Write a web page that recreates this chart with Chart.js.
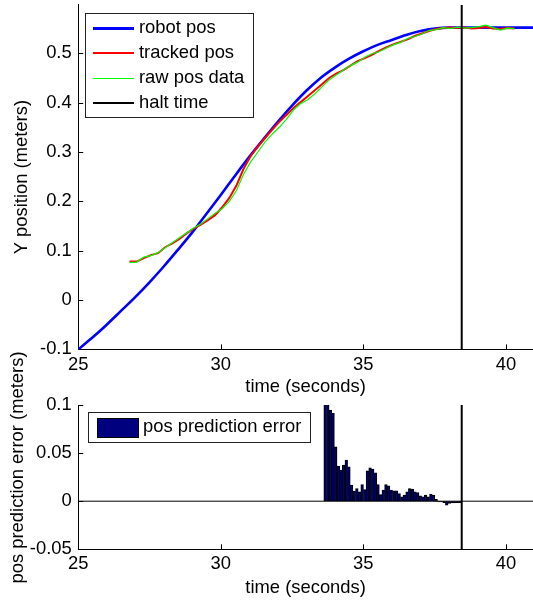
<!DOCTYPE html>
<html>
<head>
<meta charset="utf-8">
<script src="https://cdn.jsdelivr.net/npm/chart.js@4.4.1/dist/chart.umd.min.js"></script>
<style>
  html, body { margin: 0; padding: 0; background: #fff; }
  #wrap { position: relative; width: 533px; height: 600px; }
  #wrap canvas { position: absolute; left: 0; top: 0; }
</style>
</head>
<body>
<div id="wrap">
  <canvas id="posChart" width="533" height="600"></canvas>
  <canvas id="errChart" width="533" height="600"></canvas>
</div>
<script>
// axis ranges and tick labels
const timeMin = 25, timeMax = 40.95;
const timeTicks = [25, 30, 35, 40];
const posMin = -0.1, posMax = 0.598;
const posTicks = [-0.1, 0, 0.1, 0.2, 0.3, 0.4, 0.5];
const errMin = -0.05, errMax = 0.1;
const errTicks = [-0.05, 0, 0.05, 0.1];
const haltTime = 38.45;

// robot position (blue)
const robotTime = [25, 25.5, 26, 26.5, 27, 27.5, 28, 28.5, 29, 29.5, 30, 30.5, 31, 31.5, 32, 32.5,
  33, 33.5, 34, 34.5, 35, 35.5, 36, 36.5, 37, 37.5, 38, 38.5, 39, 39.5, 40, 40.5, 41];
const robotPos = [-0.100, -0.076, -0.050, -0.022, 0.006, 0.036, 0.068, 0.102, 0.137, 0.175, 0.213,
  0.252, 0.290, 0.326, 0.361, 0.394, 0.424, 0.450, 0.471, 0.489, 0.504, 0.517, 0.527, 0.537,
  0.545, 0.550, 0.552, 0.552, 0.552, 0.552, 0.552, 0.552, 0.552];

// tracked (red) and raw (green) position samples
const trackTime = [26.8, 27.05, 27.3, 27.55, 27.8, 28.05, 28.3, 28.55, 28.8, 29.05, 29.3, 29.55,
  29.8, 30.05, 30.3, 30.55, 30.8, 31.05, 31.3, 31.55, 31.8, 32.05, 32.3, 32.55, 32.8, 33.05, 33.3,
  33.55, 33.8, 34.05, 34.3, 34.55, 34.8, 35.05, 35.3, 35.55, 35.8, 36.05, 36.3, 36.55, 36.8, 37.05,
  37.3, 37.55, 37.8, 38.05, 38.3, 38.55, 38.8, 39.05, 39.3, 39.55, 39.8, 40.05, 40.3];
const trackedPos = [0.078, 0.078, 0.085, 0.091, 0.095, 0.107, 0.115, 0.124, 0.135, 0.145, 0.153,
  0.162, 0.172, 0.188, 0.207, 0.232, 0.266, 0.292, 0.311, 0.328, 0.345, 0.361, 0.375, 0.389, 0.401,
  0.413, 0.425, 0.437, 0.450, 0.459, 0.466, 0.475, 0.484, 0.490, 0.497, 0.505, 0.512, 0.518, 0.523,
  0.528, 0.535, 0.540, 0.545, 0.549, 0.551, 0.552, 0.551, 0.552, 0.550, 0.551, 0.553, 0.550, 0.549,
  0.551, 0.550];
const rawPos = [0.076, 0.077, 0.087, 0.090, 0.096, 0.106, 0.116, 0.126, 0.136, 0.146, 0.154, 0.165,
  0.176, 0.185, 0.200, 0.222, 0.255, 0.280, 0.300, 0.320, 0.336, 0.350, 0.366, 0.385, 0.398, 0.406,
  0.418, 0.432, 0.446, 0.456, 0.466, 0.475, 0.482, 0.492, 0.499, 0.503, 0.510, 0.517, 0.522, 0.530,
  0.534, 0.539, 0.546, 0.548, 0.552, 0.550, 0.553, 0.551, 0.552, 0.554, 0.557, 0.552, 0.547, 0.551,
  0.550];

// position prediction error bars, one per sample
const errStart = 33.66, errStep = 0.0927;
const errValues = [0.12, 0.11, 0.0948, 0.0913, 0.0566, 0.0365, 0.0323, 0.0375, 0.0427, 0.0358,
  0.0167, 0.0104, 0.0132, 0.0097, 0.0174, 0.0122, 0.0316, 0.0347, 0.0333, 0.0295, 0.0174, 0.0069,
  0.0115, 0.0174, 0.016, 0.0115, 0.0108, 0.0108, 0.008, 0.0045, 0.0063, 0.0097, 0.0132, 0.0125,
  0.0097, 0.009, 0.0056, 0.0045, 0.0063, 0.0045, 0.0073, 0.0063, 0.002, -0.0007, -0.0007, -0.0014,
  -0.004, -0.0024, -0.0017, -0.0017, -0.0014, -0.0014];

const FONT = '"Liberation Sans", Arial, sans-serif';
const FS = 18.4;
const AXIS = '#000';

function pairs(xs, ys) {
  return xs.map((x, i) => ({ x: x, y: ys[i] }));
}

// MATLAB style tick marks, pointing into the plot
const innerTicks = {
  id: 'innerTicks',
  beforeDatasetsDraw(chart) {
    const { ctx, chartArea: a, scales } = chart;
    ctx.save();
    ctx.strokeStyle = AXIS;
    ctx.lineWidth = 1;
    ctx.beginPath();
    scales.x.ticks.forEach((t) => {
      const px = Math.round(scales.x.getPixelForValue(t.value)) + 0.5;
      ctx.moveTo(px, a.bottom);
      ctx.lineTo(px, a.bottom - 5);
    });
    scales.y.ticks.forEach((t) => {
      const py = Math.round(scales.y.getPixelForValue(t.value)) + 0.5;
      ctx.moveTo(a.left, py);
      ctx.lineTo(a.left + 5, py);
    });
    ctx.stroke();
    ctx.restore();
  }
};

// legend box drawn inside the plot, top left
const boxLegend = {
  id: 'boxLegend',
  afterDatasetsDraw(chart, args, o) {
    const { ctx, chartArea: a } = chart;
    const items = chart.data.datasets.filter((d) => !d.noLegend);
    ctx.save();
    ctx.font = FS + 'px ' + FONT;
    const textW = Math.max.apply(null, items.map((d) => ctx.measureText(d.label).width));
    const x0 = Math.round(a.left + o.left), y0 = Math.round(a.top + o.top);
    const w = Math.round(o.padLeft + o.sample + o.gap + textW + o.padRight);
    const h = Math.round(o.padTop * 2 + items.length * o.rowHeight);
    ctx.fillStyle = '#fff';
    ctx.fillRect(x0, y0, w, h);
    ctx.strokeStyle = '#222';
    ctx.lineWidth = 1;
    ctx.strokeRect(x0 + 0.5, y0 + 0.5, w, h);
    items.forEach((d, i) => {
      const cy = Math.round(y0 + o.padTop + o.rowHeight * (i + 0.5));
      const sx = x0 + o.padLeft;
      if (d.type === 'bar') {
        ctx.fillStyle = d.backgroundColor;
        ctx.fillRect(sx, Math.round(cy - o.patch / 2), o.sample, o.patch);
        ctx.strokeStyle = d.borderColor;
        ctx.lineWidth = 1;
        ctx.strokeRect(sx + 0.5, Math.round(cy - o.patch / 2) + 0.5, o.sample, o.patch);
      } else {
        // odd widths sit on half pixels so thin lines stay crisp
        const lw = Math.max(1, Math.round(d.borderWidth));
        const ly = cy + (lw % 2 ? 0.5 : 0);
        ctx.strokeStyle = d.borderColor;
        ctx.lineWidth = lw;
        ctx.beginPath();
        ctx.moveTo(sx, ly);
        ctx.lineTo(sx + o.sample, ly);
        ctx.stroke();
      }
      ctx.fillStyle = '#000';
      ctx.textBaseline = 'middle';
      ctx.textAlign = 'left';
      ctx.fillText(d.label, sx + o.sample + o.gap, cy);
    });
    ctx.restore();
  }
};

// rotated y title that may run past its own plot (bottom panel)
const sideTitle = {
  id: 'sideTitle',
  afterDraw(chart, args, o) {
    if (!o.text) return;
    const ctx = chart.ctx;
    ctx.save();
    ctx.translate(o.x, o.y);
    ctx.rotate(-Math.PI / 2);
    ctx.font = FS + 'px ' + FONT;
    ctx.fillStyle = '#000';
    ctx.textAlign = 'center';
    ctx.textBaseline = 'middle';
    ctx.fillText(o.text, 0, 0);
    ctx.restore();
  }
};

function timeAxis(height, titlePad) {
  return {
    type: 'linear',
    min: timeMin,
    max: timeMax,
    offset: false,
    afterBuildTicks: (s) => { s.ticks = timeTicks.map((v) => ({ value: v })); },
    afterFit: (s) => { s.height = height; s.paddingLeft = 0; s.paddingRight = 0; },
    grid: { display: false, drawTicks: false, offset: false },
    border: { display: true, color: AXIS, width: 1 },
    ticks: {
      color: '#000', padding: 4, maxRotation: 0, autoSkip: false,
      font: { family: FONT, size: FS },
      callback: (v) => String(v)
    },
    title: {
      display: true, text: 'time (seconds)', color: '#000',
      font: { family: FONT, size: FS },
      padding: { top: 0, bottom: titlePad }
    }
  };
}

function valueAxis(min, max, tickList, title, titlePad) {
  return {
    type: 'linear',
    min: min,
    max: max,
    afterBuildTicks: (s) => { s.ticks = tickList.map((v) => ({ value: v })); },
    afterFit: (s) => { s.width = 78.2; s.paddingTop = 0; s.paddingBottom = 0; },
    grid: { display: false, drawTicks: false },
    border: { display: true, color: AXIS, width: 1 },
    ticks: {
      color: '#000', padding: 6.5, autoSkip: false,
      font: { family: FONT, size: FS },
      callback: (v) => String(v)
    },
    title: {
      display: !!title, text: title, color: '#000',
      font: { family: FONT, size: FS },
      padding: { top: titlePad, bottom: 0 }
    }
  };
}

const common = {
  responsive: false,
  animation: false,
  devicePixelRatio: 1,
  events: [],
  elements: { point: { radius: 0 } }
};

new Chart(document.getElementById('posChart'), {
  type: 'line',
  data: {
    datasets: [
      { label: 'robot pos', data: pairs(robotTime, robotPos), borderColor: '#0000ff',
        borderWidth: 2.6, cubicInterpolationMode: 'monotone', order: 4 },
      { label: 'tracked pos', data: pairs(trackTime, trackedPos), borderColor: '#ff0000',
        borderWidth: 2, order: 3 },
      { label: 'raw pos data', data: pairs(trackTime, rawPos), borderColor: '#00ff00',
        borderWidth: 1.2, order: 2 },
      { label: 'halt time', data: [{ x: haltTime, y: posMin }, { x: haltTime, y: posMax }],
        borderColor: '#000', borderWidth: 2, order: 1 }
    ]
  },
  options: Object.assign({}, common, {
    layout: { padding: { top: 4.9, right: 0, bottom: 200, left: 0 } },
    scales: {
      x: timeAxis(50.6, 2),
      y: valueAxis(posMin, posMax, posTicks, 'Y position (meters)', 11)
    },
    plugins: {
      legend: { display: false },
      tooltip: { enabled: false },
      boxLegend: { left: 6.8, top: 8, padLeft: 8, sample: 41, gap: 5, padRight: 9,
        padTop: 2, rowHeight: 25, patch: 19 }
    }
  }),
  plugins: [innerTicks, boxLegend]
});

new Chart(document.getElementById('errChart'), {
  type: 'line',
  data: {
    datasets: [
      { type: 'bar', label: 'pos prediction error',
        data: errValues.map((v, i) => ({ x: errStart + i * errStep, y: v })),
        backgroundColor: '#00007f', borderColor: '#000', borderWidth: 1,
        barPercentage: 1, categoryPercentage: 1, order: 3 },
      { label: 'zero', noLegend: true, data: [{ x: timeMin, y: 0 }, { x: timeMax, y: 0 }],
        borderColor: '#000', borderWidth: 1, order: 2 },
      { label: 'halt', noLegend: true, data: [{ x: haltTime, y: errMin }, { x: haltTime, y: errMax }],
        borderColor: '#000', borderWidth: 2, order: 1 }
    ]
  },
  options: Object.assign({}, common, {
    layout: { padding: { top: 405, right: 0, bottom: 0, left: 0 } },
    scales: {
      x: timeAxis(50.7, 1.5),
      y: valueAxis(errMin, errMax, errTicks, '', 0)
    },
    plugins: {
      legend: { display: false },
      tooltip: { enabled: false },
      boxLegend: { left: 9.8, top: 7, padLeft: 9, sample: 41, gap: 5, padRight: 9,
        padTop: 2, rowHeight: 26, patch: 19 },
      sideTitle: { text: 'pos prediction error (meters)', x: 18, y: 467.5 }
    }
  }),
  plugins: [innerTicks, boxLegend, sideTitle]
});
</script>
</body>
</html>
